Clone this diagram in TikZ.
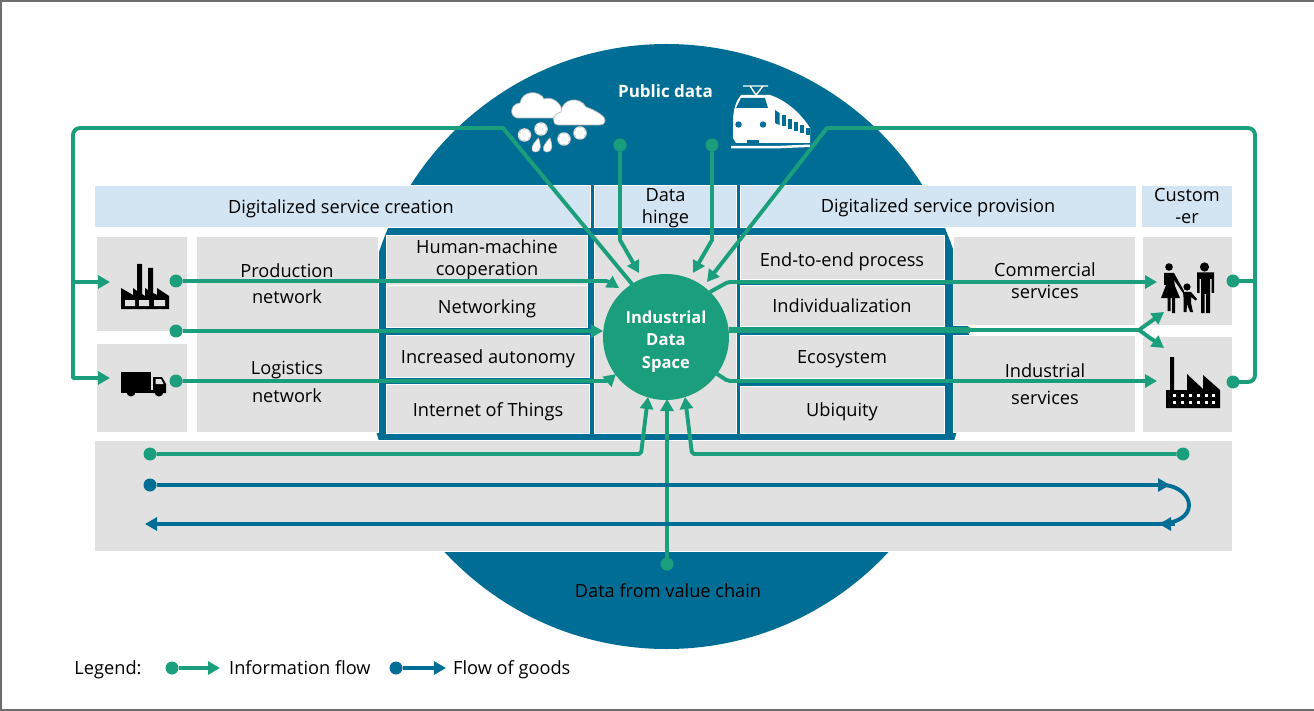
\documentclass[tikz,border=0pt]{standalone}
\usepackage{fontspec}
\setmainfont{Open Sans}
\usetikzlibrary{arrows.meta}
\definecolor{flowgreen}{RGB}{26,158,124}
\definecolor{goodsblue}{RGB}{0,110,148}
\definecolor{boxgray}{RGB}{224,225,224}
\definecolor{headblue}{RGB}{211,228,242}
\definecolor{framegray}{RGB}{110,110,110}
\tikzset{
  graybox/.style={fill=boxgray,draw=white,line width=0.6pt,inner sep=0pt,outer sep=0pt},
  headbox/.style={fill=headblue,draw=white,line width=0.6pt,inner sep=0pt,outer sep=0pt},
  lbl/.style={font=\fontsize{18.2}{22}\selectfont,align=center,text=black,inner sep=0pt,yshift=-2.2pt,
    execute at begin node={\vphantom{Ag}},execute at end node={\vphantom{Ag}}},
  infoline/.style={draw=flowgreen,line width=3.9pt,line join=round,line cap=round},
  infoflow/.style={infoline,line cap=butt,-{Triangle[length=12pt,width=13pt]}},
  goodsline/.style={draw=goodsblue,line width=3.9pt,line join=round},
  goodsflow/.style={goodsline,-{Triangle[length=12pt,width=13pt]}},
  infodot/.style={circle,fill=flowgreen,minimum size=13pt,inner sep=0pt,outer sep=0pt},
  goodsdot/.style={circle,fill=goodsblue,minimum size=13pt,inner sep=0pt,outer sep=0pt},
  icon/.style={fill=black,draw=none},
}
\newcommand{\bx}[6]{\node[#1,minimum width={(#5-#3+0.6)*1pt},minimum height={(#6-#4+0.6)*1pt}] (#2) at ({(#3+#5)/2},{(#4+#6)/2}) {};}
\begin{document}
\begin{tikzpicture}[x=1pt,y=-1pt]
\useasboundingbox (0,0) rectangle (1314,711);
\fill[white] (0,0) rectangle (1314,711);
\draw[framegray,line width=1.3pt] (1,1) rectangle (1330,710);

% big disc
\node[circle,fill=goodsblue,minimum size=605pt,inner sep=0pt,outer sep=0pt] (disc) at (666.5,346.5) {};

% header boxes
\bx{headbox}{hA}{95}{186}{590}{227}
\bx{headbox}{hB}{595}{186}{736}{227}
\bx{headbox}{hC}{741}{186}{1136}{227}
\bx{headbox}{hD}{1142}{186}{1232}{227}

% grey boxes
\bx{graybox}{bFac}{97}{237}{187}{331}
\bx{graybox}{bTruck}{97}{344}{187}{432}
\bx{graybox}{bNet}{197}{237}{378}{432}
\bx{graybox}{bHM}{387}{236}{587}{285}
\bx{graybox}{bNw}{387}{286}{587}{327}
\bx{graybox}{bAut}{387}{336}{589}{377}
\bx{graybox}{bIoT}{387}{385}{589}{433}
\bx{graybox}{bHinge}{595}{236}{736}{433}
\bx{graybox}{bE2E}{741}{236}{944}{279}
\bx{graybox}{bInd}{741}{286}{944}{326}
\bx{graybox}{bEco}{741}{336}{944}{378}
\bx{graybox}{bUbi}{741}{387}{944}{433}
\bx{graybox}{bCom}{954}{237}{1135}{325}
\bx{graybox}{bIS}{954}{336}{1135}{432}
\bx{graybox}{bPeople}{1143}{237}{1232}{325}
\bx{graybox}{bFac2}{1143}{337}{1232}{432}
\bx{graybox}{bChain}{95}{441}{1232}{551}

% texts
\node[lbl] (tA) at (341,207) {Digitalized service creation};
\node[lbl] (tB) at (665.5,206) {Data\\hinge};
\node[lbl] (tC) at (938,206) {Digitalized service provision};
\node[lbl] (tD) at (1187,206) {Custom\\-er};
\node[lbl] (tHM) at (487,258) {Human-machine\\cooperation};
\node[lbl] (tNw) at (487,307) {Networking};
\node[lbl] (tAut) at (488,357) {Increased autonomy};
\node[lbl] (tIoT) at (488,410) {Internet of Things};
\node[lbl] (tE2E) at (842,260) {End-to-end process};
\node[lbl] (tInd) at (842,306) {Individualization};
\node[lbl] (tEco) at (842,357) {Ecosystem};
\node[lbl] (tUbi) at (842,410) {Ubiquity};
\node[lbl] (tPn) at (287,284) {Production\\[4pt]network};
\node[lbl] (tLn) at (287,382) {Logistics\\[6pt]network};
\node[lbl] (tCs) at (1045,281) {Commercial\\services};
\node[lbl] (tIs) at (1045,384.5) {Industrial\\[5pt]services};
\node[lbl,text=white,font=\fontsize{17}{22}\selectfont\bfseries] (tPub) at (665.5,91) {Public data};
\node[lbl] (tVal) at (668,591) {Data from value chain};
\node[lbl] (tLeg) at (108,668) {Legend:};
\node[lbl,anchor=west] (tInfo) at (229,668) {Information flow};
\node[lbl,anchor=west] (tGoods) at (453,668) {Flow of goods};

% cloud icon
\begin{scope}
\path[fill=white,draw=black!28,line width=0.7pt] (517,118) .. controls (509,116) and (510,104) .. (520,103) .. controls (522,90) and (540,90) .. (544,99) .. controls (552,96) and (562,103) .. (562,112) -- (562,118) -- cycle;
\path[fill=white,draw=black!28,line width=0.7pt] (558,125) .. controls (551,124) and (552,114) .. (561,112) .. controls (562,98) and (580,96) .. (586,107) .. controls (595,110) and (605,116) .. (605,120) .. controls (605,124) and (602,125) .. (600,125) -- cycle;
\foreach \sx/\sy in {524.5/135,541/129,564/139,580/133}{
  \path[fill=black!18] (\sx,\sy) circle (6.8);
  \foreach \a in {0,60,...,300}
    \path[fill=white] (\sx,\sy) ++(\a:3.7) circle (2.3);
  \path[fill=white] (\sx,\sy) circle (1.6);
}
\foreach \dx/\dy in {535.5/152,547/152}
  \path[fill=white,draw=black!25,line width=0.6pt] (\dx,\dy) .. controls ({\dx-7},{\dy-1}) and ({\dx-3},{\dy-8}) .. ({\dx+3},{\dy-14}) .. controls ({\dx+5},{\dy-8}) and ({\dx+7},{\dy-1}) .. (\dx,\dy) -- cycle;
\end{scope}

% train icon
\begin{scope}
\draw[white,line width=1.4pt] (743,86) -- (768,86) (750,86) -- (756,95) -- (763,86) (756,95) -- (756,97);
\fill[white] (733,138) -- (733,118) .. controls (734,108) and (736,101) .. (741,95) -- (770,95) .. controls (785,100) and (800,112) .. (810,128) -- (810,143) -- (736,143) -- cycle;
\fill[goodsblue] (736,108) -- (741,98) -- (765,98) -- (768,108) -- cycle;
\fill[goodsblue] (738.5,124.5) circle (3.2) (763,124.5) circle (3.2);
\fill[goodsblue] (775,110) -- (779.5,113) -- (779.5,125) -- (775,123) -- cycle;
\foreach \wx/\wy/\wh in {782/115/11,788/119/10,794/122/9,800/125/8,805.5/128/7}
  \fill[goodsblue] (\wx,\wy) rectangle ({\wx+4},{\wy+\wh});
\fill[goodsblue] (747,140) rectangle (759,144);
\fill[goodsblue] (760,143) rectangle (810,145);
\fill[white] (731,146) -- (775,146) -- (810,144.5) -- (810,147) -- (775,148.5) -- (731,148.5) -- cycle;
\end{scope}

% factory icon 1
\begin{scope}
\path[icon] (121,309) -- (121,288) -- (133,295) -- (133,288) -- (137,291) -- (137,264) -- (142,264) -- (142,294) -- (145,296) -- (145,288) -- (148,290) -- (148,268) -- (153,268) -- (153,293) -- (157,295) -- (157,288) -- (169,296) -- (169,309) -- cycle;
\fill[boxgray] (125,300) rectangle (135,306) (139,300) rectangle (149,306) (154,300) rectangle (165,306);
\end{scope}

% truck icon
\begin{scope}
\fill[black] (121,372) rectangle (151,391);
\path[icon] (153,377) -- (162,377) -- (166,384) -- (166,393) -- (153,393) -- cycle;
\fill[boxgray] (155.5,379) -- (161,379) -- (163.5,384) -- (155.5,384) -- cycle;
\fill[black] (131,392) circle (4.5) (159,392) circle (4.5);
\fill[boxgray] (131,392) circle (1.2) (159,392) circle (1.2);
\fill[black] (121,390) rectangle (166,393);
\end{scope}

% people icon
\begin{scope}
\fill[black] (1169,267) circle (3.8) (1204.5,267) circle (4.6) (1187,287) circle (3.6);
\path[icon] (1197,272.5) -- (1214,272.5) -- (1214,293) -- (1211.5,293) -- (1211.5,279) -- (1210,279) -- (1210,313) -- (1206,313) -- (1206,294) -- (1204.5,294) -- (1204.5,313) -- (1201,313) -- (1201,279) -- (1199.5,279) -- (1199.5,293) -- (1197,293) -- cycle;
\path[icon] (1164,273) -- (1174,273) -- (1184,291) -- (1183,293) -- (1174,280) -- (1175,286) -- (1180,298) -- (1175,298) -- (1175,313) -- (1172,313) -- (1172,298) -- (1170.5,298) -- (1170.5,311) -- (1167.5,311) -- (1167.5,298) -- (1161,298) -- (1166,285) -- (1164,285) -- cycle;
\path[icon] (1183,292) -- (1191,292) -- (1197,299) -- (1195.5,300.5) -- (1191,297) -- (1191,303) -- (1193,312) -- (1190,312) -- (1187,304) -- (1186.5,312) -- (1183.5,312) -- (1183.5,303) -- (1183.5,297) -- cycle;
\end{scope}

% factory icon 2
\begin{scope}
\path[icon] (1166,408) -- (1166,390) -- (1170,390) -- (1170,357) -- (1174,357) -- (1174,390) -- (1187,390) -- (1187,374) -- (1203,389) -- (1203,375) -- (1220,390) -- (1220,408) -- cycle;
\foreach \fx in {1172.5,1180.5,1188.5,1196.5,1204.5,1212}
  \foreach \fy in {393.5,401}
    \fill[white] (\fx,\fy) rectangle ({\fx+3.2},{\fy+3.2});
\end{scope}

% central node
\node[circle,fill=flowgreen,minimum size=126pt,inner sep=0pt,outer sep=0pt] (ids) at (666,337) {};
\node[lbl,text=white,font=\fontsize{16.6}{22.5}\selectfont\bfseries] (tIds) at (666,339) {Industrial\\Data\\Space};

% dots
\node[infodot] (dFac) at (176,281) {};
\node[infodot] (dMid) at (176,331) {};
\node[infodot] (dTruck) at (176,381) {};
\node[infodot] (dPubA) at (620,145) {};
\node[infodot] (dPubB) at (712,145) {};
\node[infodot] (dPeople) at (1233,281) {};
\node[infodot] (dFac2) at (1233,382) {};
\node[infodot] (dChainL) at (150,454) {};
\node[infodot] (dChainR) at (1183,454) {};
\node[infodot] (dChainM) at (667,564) {};
\node[goodsdot] (dGoods) at (150,485) {};
\node[infodot] (dLegI) at (172,668) {};
\node[goodsdot] (dLegG) at (396,668) {};

% free ends
\coordinate (inFac) at (110,282);
\coordinate (inTruck) at (110,378);
\coordinate (junL) at (73,282);
\coordinate (junLb) at (73,378);
\coordinate (junR) at (1255,281);
\coordinate (tipPubA) at (639,273);
\coordinate (tipPubB) at (693,273);
\coordinate (tipDiag) at (707,282);
\coordinate (tipFac) at (619,288);
\coordinate (tipMid) at (603,331);
\coordinate (tipTruck) at (616,374);
\coordinate (tipChL) at (648,397);
\coordinate (tipChM) at (667,399);
\coordinate (tipChR) at (685,397);
\coordinate (outA) at (710,292);
\coordinate (outB) at (729,330);
\coordinate (outC) at (717,374);
\coordinate (tipPeople) at (1157,282);
\coordinate (tipFac2) at (1157,381);
\coordinate (jun) at (1139,330);
\coordinate (tipUp) at (1164,312);
\coordinate (tipDown) at (1164,348);
\coordinate (goodsTipA) at (1170,485);
\coordinate (goodsTipB) at (1159,524);
\coordinate (goodsEnd) at (145,524);
\coordinate (legTipI) at (220,668);
\coordinate (legTipG) at (446,668);
\coordinate (idsOutL) at (632,284);
\coordinate (bendL) at (503,128);
\coordinate (bendR) at (827,128);

% outer feedback loops
\draw[infoline] (idsOutL) -- (bendL);
\draw[infoline,rounded corners=7pt] (bendL) -- (73,128) -- (junLb);
\draw[infoflow] (junL) -- (inFac);
\draw[infoflow] (junLb) -- (inTruck);
\draw[infoline] (dPeople) -- (junR);
\draw[infoline,rounded corners=7pt] (dFac2) -- (1255,382) -- (1255,128) -- (bendR);
\draw[infoflow] (bendR) -- (tipDiag);

% public data
\draw[infoflow] (dPubA) -- (620,240) -- (tipPubA);
\draw[infoflow] (dPubB) -- (712,240) -- (tipPubB);

% left inputs
\draw[infoflow,rounded corners=2pt] (dFac) -- (608,281) -- (tipFac);
\draw[infoflow] (dMid) -- (tipMid);
\draw[infoflow,rounded corners=2pt] (dTruck) -- (608,381) -- (tipTruck);

% right outputs
\draw[infoflow,rounded corners=2pt] (outA) -- (728,282) -- (tipPeople);
\draw[infoline,line cap=butt,line width=5.5pt] (outB) -- (970,330);
\draw[infoline,line cap=butt] (970,330) -- (jun);
\draw[infoflow] (jun) -- (tipUp);
\draw[infoflow] (jun) -- (tipDown);
\draw[infoflow,rounded corners=2pt] (outC) -- (728,381) -- (tipFac2);

% value-chain inputs
\draw[infoflow,rounded corners=2pt] (dChainL) -- (641,454) -- (tipChL);
\draw[infoflow] (dChainM) -- (tipChM);
\draw[infoflow,rounded corners=2pt] (dChainR) -- (692,454) -- (tipChR);

% flow of goods
\draw[goodsflow] (dGoods) -- (goodsTipA);
\draw[goodsline] (1164,485) .. controls (1178,486) and (1189,495) .. (1189,505) .. controls (1189,516) and (1178,523) .. (goodsTipB);
\draw[goodsflow] (1175,524) -- (goodsTipB);
\draw[goodsflow] (goodsTipB) -- (goodsEnd);

% legend
\draw[infoflow,line width=3.4pt] (dLegI) -- (legTipI);
\draw[goodsflow,line width=3.4pt] (dLegG) -- (legTipG);
\end{tikzpicture}
\end{document}
